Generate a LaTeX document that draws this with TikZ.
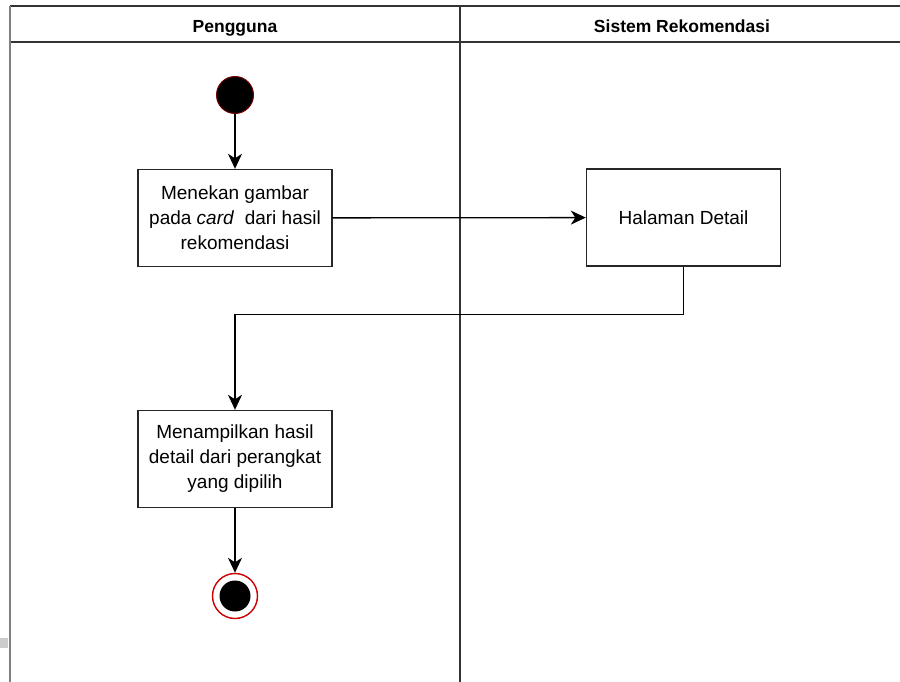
\documentclass[tikz,border=0pt]{standalone}
\usepackage{fontspec}
\setmainfont{Liberation Sans}
\usetikzlibrary{arrows.meta}
\begin{document}
\begin{tikzpicture}[x=1pt,y=-1pt,
  lane/.style={draw=black!80, line width=1.6pt},
  act/.style={draw=black!85, line width=1.4pt, minimum width=194pt, minimum height=97pt,
    align=center, inner sep=0pt, font=\fontsize{19}{25}\selectfont},
  flow/.style={draw=black, line width=1.3pt, -{Stealth[length=15pt,width=14pt,inset=4.5pt]}},
  hdr/.style={font=\bfseries\fontsize{17.5}{20}\selectfont, text height=13pt, text depth=4pt, inner sep=0pt},
  startnode/.style={circle, fill=black, draw=red!45!black, line width=1pt, minimum size=37pt, inner sep=0pt},
  endnode/.style={circle, draw=red!80!black, line width=1.4pt, minimum size=45pt, inner sep=0pt}]
\useasboundingbox (0,0) rectangle (900,682);
\fill[white] (0,0) rectangle (900,682);
\fill[black!20] (0,638) rectangle (8,648);

% swimlane frame
\draw[lane] (10,6) -- (900,6);
\draw[lane] (10,42) -- (900,42);
\draw[lane] (460,6) -- (460,682);
\draw[draw=black!50, line width=2.5pt] (10,6) -- (10,682);
\node[hdr] (h1) at (235,28) {Pengguna};
\node[hdr] (h2) at (682,28) {Sistem Rekomendasi};

% activities
\node[startnode] (s) at (235,95) {};
\node[act] (a1) at (235,218) {Menekan gambar\\pada \textit{card}\ \ dari hasil\\rekomendasi};
\node[act] (a2) at (683.5,217.5) {Halaman Detail};
\node[act] (a3) at (235,459) {Menampilkan hasil\\detail dari perangkat\\yang dipilih};
\node[endnode] (e) at (235,596) {};
\fill[black] (e.center) circle (15.5pt);

% control flow
\draw[flow] (s) -- (a1);
\draw[flow] (a1) -- (a2);
\draw[flow] (a2.south) -- ++(0,48) -| (a3.north);
\draw[flow] (a3) -- (e);
\end{tikzpicture}
\end{document}
